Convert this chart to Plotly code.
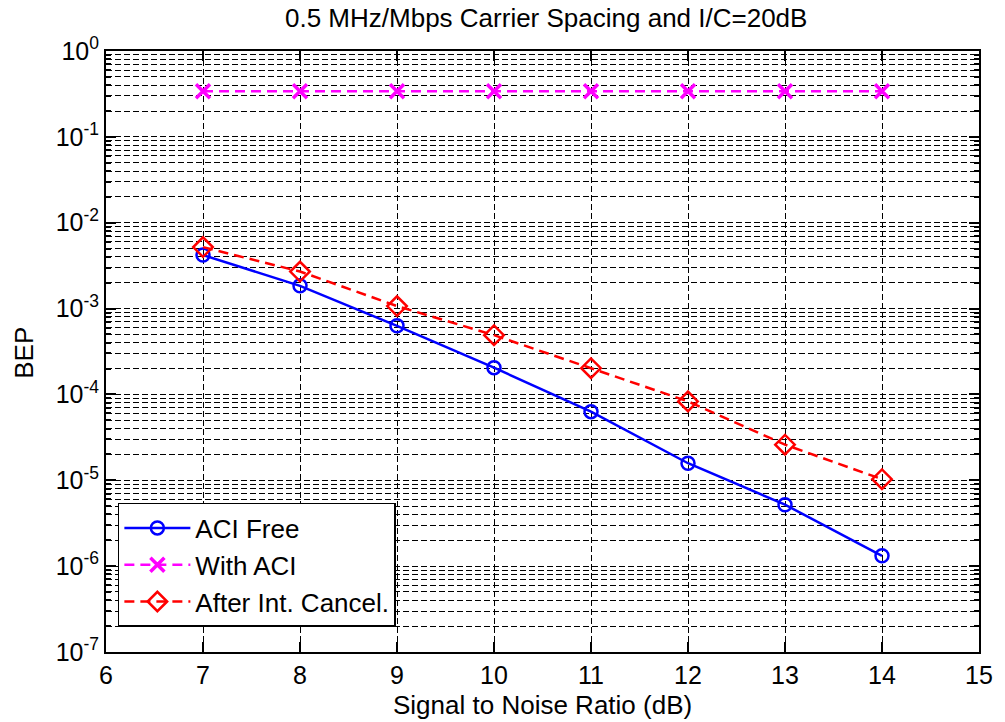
import plotly.graph_objects as go

snr_db = [7, 8, 9, 10, 11, 12, 13, 14]
bep_aci_free = [4.2e-3, 1.84e-3, 6.3e-4, 2.05e-4, 6.3e-5, 1.58e-5, 5.2e-6, 1.32e-6]
bep_with_aci = [0.34, 0.34, 0.34, 0.34, 0.34, 0.34, 0.34, 0.34]
bep_after_cancel = [5.2e-3, 2.7e-3, 1.07e-3, 4.9e-4, 2.02e-4, 8.3e-5, 2.6e-5, 1.03e-5]

x_ticks = [6, 7, 8, 9, 10, 11, 12, 13, 14, 15]
y_tickvals = [1, 1e-1, 1e-2, 1e-3, 1e-4, 1e-5, 1e-6, 1e-7]
y_ticktext = ["10<sup>0</sup>", "10<sup>-1</sup>", "10<sup>-2</sup>", "10<sup>-3</sup>",
              "10<sup>-4</sup>", "10<sup>-5</sup>", "10<sup>-6</sup>", "10<sup>-7</sup>"]

FONT = "Liberation Sans, Arial, sans-serif"
FS = 26
TFS = 25

fig = go.Figure()
fig.add_trace(go.Scatter(
    x=snr_db, y=bep_aci_free, name="ACI Free", mode="lines+markers",
    line=dict(color="#0000FF", width=2.5),
    marker=dict(symbol="circle-open", size=13, color="#0000FF", line=dict(width=2.5, color="#0000FF")),
))
fig.add_trace(go.Scatter(
    x=snr_db, y=bep_with_aci, name="With ACI", mode="lines+markers",
    line=dict(color="#FF00FF", width=2.5, dash="10px,6px"),
    marker=dict(symbol="x-thin-open", size=14, color="#FF00FF", line=dict(width=3.5, color="#FF00FF")),
))
fig.add_trace(go.Scatter(
    x=snr_db, y=bep_after_cancel, name="After Int. Cancel.", mode="lines+markers",
    line=dict(color="#FF0000", width=2.5, dash="10px,6px"),
    marker=dict(symbol="diamond-open", size=15, color="#FF0000", line=dict(width=2.5, color="#FF0000")),
))

grid_style = dict(gridcolor="#000000", gridwidth=1, griddash="6px,3px")

fig.update_xaxes(
    range=[6, 15], tickvals=x_ticks, ticktext=[str(v) for v in x_ticks],
    showgrid=True, **grid_style,
    ticks="inside", ticklen=10, tickwidth=1.5, tickcolor="#000",
    showline=True, linecolor="#000", linewidth=2, mirror="ticks",
    zeroline=False,
    tickfont=dict(family=FONT, size=TFS, color="#000"),
)
fig.update_yaxes(
    type="log", range=[-7, 0], tickvals=y_tickvals, ticktext=y_ticktext,
    showgrid=True, **grid_style,
    ticks="inside", ticklen=10, tickwidth=1.5, tickcolor="#000",
    showline=True, linecolor="#000", linewidth=2, mirror="ticks",
    zeroline=False,
    minor=dict(dtick="D1", showgrid=True, gridcolor="#000000", gridwidth=1, griddash="6px,3px",
               ticks="inside", ticklen=5, tickcolor="#000"),
    tickfont=dict(family=FONT, size=TFS, color="#000"),
)

fig.add_annotation(
    text="Signal to Noise Ratio (dB)", xref="paper", yref="paper",
    x=0.5, y=-(705 - 652) / 601, xanchor="center", yanchor="middle", showarrow=False,
    font=dict(family=FONT, size=FS, color="#000"),
)
fig.add_annotation(
    text="BEP", xref="paper", yref="paper", textangle=-90,
    x=(23 - 106) / 881, y=(652 - 353) / 601, xanchor="center", yanchor="middle", showarrow=False,
    font=dict(family=FONT, size=FS, color="#000"),
)

fig.update_layout(
    width=1005, height=722,
    margin=dict(l=106, r=18, t=51, b=70),
    paper_bgcolor="#FFFFFF", plot_bgcolor="#FFFFFF",
    font=dict(family=FONT, size=FS, color="#000"),
    title=dict(text="0.5 MHz/Mbps Carrier Spacing and I/C=20dB", x=0.5435, xanchor="center",
               y=1 - 18 / 722, yref="container", yanchor="middle",
               font=dict(family=FONT, size=FS, color="#000")),
    legend=dict(x=0.0136, y=0.0416, xanchor="left", yanchor="bottom",
                bgcolor="#FFFFFF", bordercolor="#000", borderwidth=1.5,
                font=dict(family=FONT, size=FS, color="#000"), itemwidth=66,
                tracegroupgap=0),
    showlegend=True,
)

fig.write_html("out.html")
